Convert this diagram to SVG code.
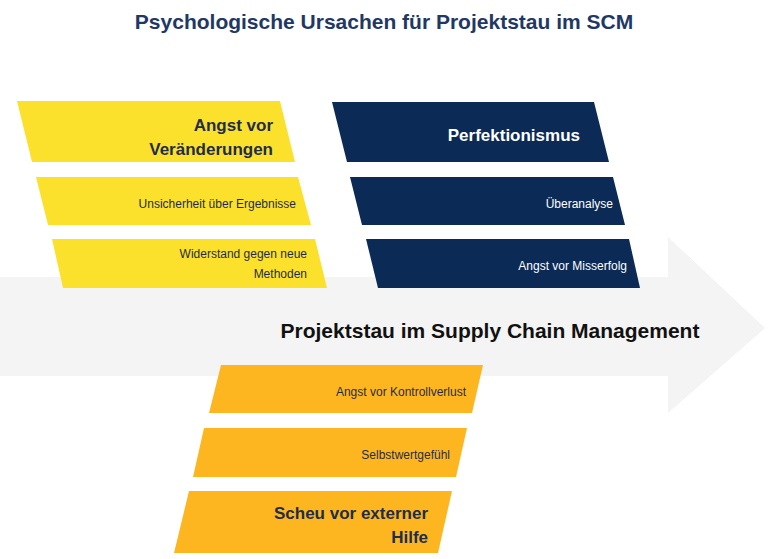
<svg xmlns="http://www.w3.org/2000/svg" width="768" height="559" viewBox="0 0 768 559">
<style>
text{font-family:"Liberation Sans",Arial,sans-serif;}
.y{fill:#FBE12B}.n{fill:#0B2A55}.o{fill:#FDB620}
.s{font-size:12px;text-anchor:end}
.b{font-size:17px;font-weight:bold;text-anchor:end}
.dk{fill:#1F2D4D}.wh{fill:#FFFFFF}
</style>
<rect width="768" height="559" fill="#fff"/>
<text x="384" y="29" text-anchor="middle" font-size="21" font-weight="bold" fill="#1F3864">Psychologische Ursachen für Projektstau im SCM</text>
<g id="arrow">
<polygon points="0,277 668,277 668,237 765,328 668,413 668,376 0,376" fill="#F4F4F4"/>
<text x="490" y="338" text-anchor="middle" font-size="21" font-weight="bold" fill="#111">Projektstau im Supply Chain Management</text>
</g>
<g id="connectors"></g>
<g id="y1"><polygon class="y" points="17,101 280,101 295,162 32,162"/><text class="b dk" x="273" y="131">Angst vor</text><text class="b dk" x="273" y="155">Veränderungen</text></g>
<g id="y2"><polygon class="y" points="36,177 298,177 311,225 48,225"/><text class="s dk" x="296" y="208">Unsicherheit über Ergebnisse</text></g>
<g id="y3"><polygon class="y" points="52,239 315,239 327,288 63,288"/><text class="s dk" x="307" y="258">Widerstand gegen neue</text><text class="s dk" x="307" y="278">Methoden</text></g>
<g id="n1"><polygon class="n" points="332,102 594,102 609,162 347,162"/><text class="b wh" x="580" y="141">Perfektionismus</text></g>
<g id="n2"><polygon class="n" points="350,177 613,177 625,225 362,225"/><text class="s wh" x="613" y="208">Überanalyse</text></g>
<g id="n3"><polygon class="n" points="366,239 629,239 640,288 378,288"/><text class="s wh" x="627" y="270">Angst vor Misserfolg</text></g>
<g id="o1"><polygon class="o" points="221,365 483,365 472,413 209,413"/><text class="s dk" x="466" y="396">Angst vor Kontrollverlust</text></g>
<g id="o2"><polygon class="o" points="204,428 467,428 456,477 193,477"/><text class="s dk" x="450" y="459">Selbstwertgefühl</text></g>
<g id="o3"><polygon class="o" points="189,491 452,491 438,553 174,553"/><text class="b dk" x="428" y="519">Scheu vor externer</text><text class="b dk" x="428" y="543">Hilfe</text></g>
</svg>
